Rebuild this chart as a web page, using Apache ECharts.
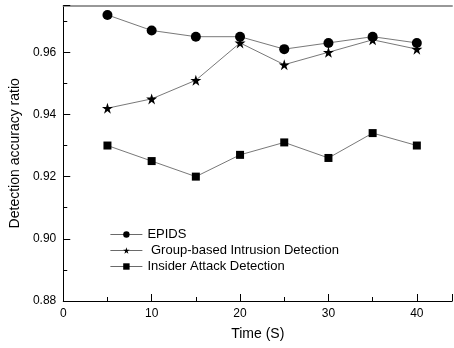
<!DOCTYPE html>
<html><head><meta charset="utf-8">
<script src="https://cdn.jsdelivr.net/npm/echarts@6/dist/echarts.min.js"></script>
<style>html,body{margin:0;padding:0;background:#fff}#c{width:454px;height:348px}</style>
</head><body><div id="c"></div>
<script>
var times = [5, 10, 15, 20, 25, 30, 35, 40];
var epids = [0.972, 0.967, 0.965, 0.965, 0.961, 0.963, 0.965, 0.963];
var groupBased = [0.942, 0.945, 0.951, 0.963, 0.956, 0.960, 0.964, 0.961];
var insider = [0.930, 0.925, 0.920, 0.927, 0.931, 0.926, 0.934, 0.930];
var names = ['EPIDS', ' Group-based Intrusion Detection', 'Insider Attack Detection'];
var symbols = ['circle', 'path://M50,0 L61.8,35.4 L98.9,35.4 L68.8,57.3 L80.3,92.7 L50,70.8 L19.7,92.7 L31.2,57.3 L1.1,35.4 L38.2,35.4 Z', 'rect'];
var sizes = [10, 11, 8];
var seriesData = [epids, groupBased, insider];

function pairs(arr){ return times.map(function(t,i){ return [t, arr[i]]; }); }

var font = 'Liberation Sans, Arial, sans-serif';
var chart = echarts.init(document.getElementById('c'), null, {renderer:'canvas'});
chart.setOption({
  animation: false,
  backgroundColor: '#fff',
  grid: {left: 59.5, right: 1.8, top: 5.6, bottom: 47},
  legend: {
    orient: 'vertical', left: 105, top: 223, itemGap: 3, itemWidth: 32, itemHeight: 8,
    data: names,
    lineStyle: {width: 0.8, color: '#444'},
    textStyle: {fontFamily: font, fontSize: 13, color: '#000'}
  },
  xAxis: [{
    type: 'value', min: 0, max: 44, interval: 10,
    name: 'Time (S)', nameLocation: 'middle', nameGap: 26,
    nameTextStyle: {fontFamily: font, fontSize: 14, color: '#000'},
    axisLine: {show: true, lineStyle: {color: '#000', width: 1}},
    axisTick: {show: true, inside: true, length: 7, lineStyle: {color: '#000'}},
    minorTick: {show: true, splitNumber: 2, length: 4, lineStyle: {color: '#000'}},
    axisLabel: {fontFamily: font, fontSize: 12, color: '#000', margin: 7, showMaxLabel: false,
      formatter: function(v){ return v % 10 === 0 && v <= 40 ? String(v) : ''; }},
    splitLine: {show: false}
  }, {
    type: 'value', position: 'top', min: 0, max: 44,
    axisLine: {show: true, lineStyle: {color: '#777', width: 1.5}},
    axisTick: {show: false}, axisLabel: {show: false}, splitLine: {show: false}
  }],
  yAxis: {
    type: 'value', min: 0.88, max: 0.975, interval: 0.02,
    name: 'Detection accuracy ratio', nameLocation: 'middle', nameGap: 38, nameRotate: 90,
    nameTextStyle: {fontFamily: font, fontSize: 14, color: '#000'},
    axisLine: {show: true, lineStyle: {color: '#000', width: 1}},
    axisTick: {show: true, inside: true, length: 7, lineStyle: {color: '#000'}},
    minorTick: {show: true, splitNumber: 2, length: 4, lineStyle: {color: '#000'}},
    axisLabel: {fontFamily: font, fontSize: 12, color: '#000', margin: 7, showMaxLabel: false,
      formatter: function(v){ return v.toFixed(2); }},
    splitLine: {show: false}
  },
  series: names.map(function(n,i){
    return {
      name: n, type: 'line', data: pairs(seriesData[i]),
      symbol: symbols[i], symbolSize: sizes[i],
      itemStyle: {color: '#000'},
      lineStyle: {color: '#555', width: 0.8}
    };
  })
});
</script></body></html>
